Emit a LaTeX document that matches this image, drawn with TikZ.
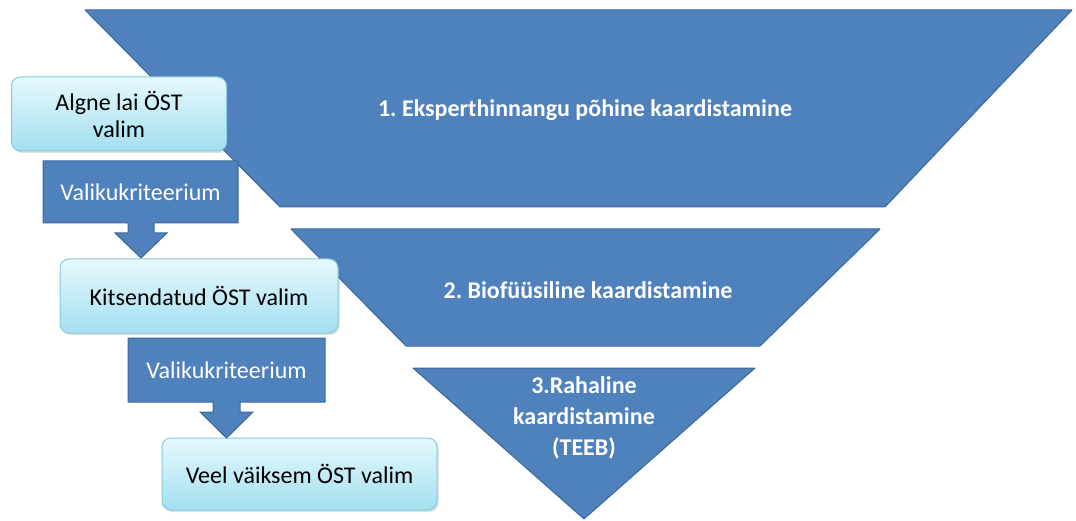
\documentclass[tikz,border=0pt]{standalone}
\usepackage{fontspec}
\setmainfont{Carlito}
\usetikzlibrary{shadows}
\definecolor{dblue}{HTML}{4F81BD}
\definecolor{dborder}{HTML}{3C6899}
\definecolor{ltop}{HTML}{E6F9FD}
\definecolor{lbot}{HTML}{A3DFF0}
\definecolor{lborder}{HTML}{86CADF}
\begin{document}
\frenchspacing
\begin{tikzpicture}[x=1pt,y=-1pt,
  funnel/.style={fill=dblue, draw=dborder, line width=1pt, line join=round},
  lbox/.style={rounded corners=9pt, top color=ltop, bottom color=lbot, draw=lborder, line width=1pt,
    drop shadow={opacity=0.25, shadow xshift=1.5pt, shadow yshift=-2pt},
    font=\fontsize{24}{27}\selectfont, align=center, text=black, inner sep=0pt},
  ftext/.style={text=white, font=\bfseries\fontsize{24}{31}\selectfont, align=center},
  ctext/.style={text=white, font=\fontsize{24}{27}\selectfont}]
\useasboundingbox[fill=white] (0,0) rectangle (1076,521);

% funnel levels
\draw[funnel] (85,10) -- (1072,10) -- (885,207) -- (280,207) -- cycle;
\draw[funnel] (291,229) -- (880,229) -- (760,346) -- (406,346) -- cycle;
\draw[funnel] (413,368) -- (755,368) -- (584,519) -- cycle;
\node[ftext] (l1) at (585,110) {1. Eksperthinnangu põhine kaardistamine};
\node[ftext] (l2) at (588,290) {2. Biofüüsiline kaardistamine};
\node[ftext] (l3) at (584,418) {3.Rahaline\\kaardistamine\\(TEEB)};

% selection boxes
\node[lbox, minimum width=215pt, minimum height=74pt] (b1) at (119,114) {Algne lai ÖST\\valim};
\node[lbox, minimum width=278pt, minimum height=74pt] (b2) at (199,296) {Kitsendatud ÖST valim};
\node[lbox, minimum width=275pt, minimum height=72pt] (b3) at (299.5,474) {Veel väiksem ÖST valim};

% callout arrows
\draw[funnel, line join=miter] (43,161) -- (238,161) -- (238,223) -- (154,223) -- (154,233) -- (167,233)
  -- (141,258) -- (115,233) -- (128,233) -- (128,223) -- (43,223) -- cycle;
\node[ctext] (c1) at (140.5,192) {Valikukriteerium};
\draw[funnel, line join=miter] (128,338) -- (325,338) -- (325,402) -- (240,402) -- (240,412) -- (253,412)
  -- (226.5,438) -- (200,412) -- (213,412) -- (213,402) -- (128,402) -- cycle;
\node[ctext] (c2) at (226.5,370) {Valikukriteerium};
\end{tikzpicture}
\end{document}
